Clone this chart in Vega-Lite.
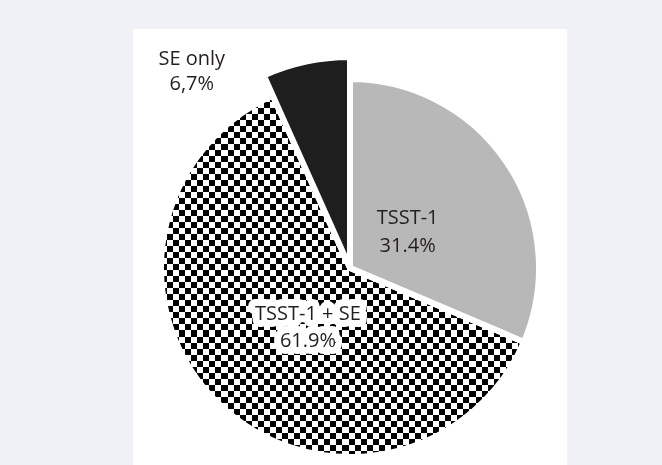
{
  "$schema": "https://vega.github.io/schema/vega-lite/v6.json",
  "width": 434,
  "height": 478,
  "autosize": "none",
  "padding": {"left": 133, "top": 29, "right": 95, "bottom": 0},
  "background": "#f0f1f7",
  "view": {"fill": "#ffffff", "stroke": null},
  "config": {"view": {"fill": "#ffffff", "stroke": null}, "text": {"font": "Open Sans"}},
  "data": {"values": [
    {"group": "TSST-1", "pct": 31.4, "label": "TSST-1\n31.4%"},
    {"group": "TSST-1 + SE", "pct": 61.9, "label": "TSST-1 + SE\n61.9%"},
    {"group": "SE only", "pct": 6.7, "label": "SE only\n6,7%"}
  ]},
  "encoding": {
    "theta": {"field": "pct", "type": "quantitative", "stack": true, "scale": {"range": [-0.420973, 5.862212]}},
    "order": {"field": "group", "type": "nominal", "sort": "ascending"},
    "detail": {"field": "group", "type": "nominal"}
  },
  "layer": [
    {
      "mark": {"type": "arc", "outerRadius": 189},
      "encoding": {
        "fill": {"field": "group", "type": "nominal", "scale": {"domain": ["SE only", "TSST-1", "TSST-1 + SE"], "range": ["#1e1e1e", "#b8b8b8", "#808080"]}, "legend": null},
        "opacity": {"condition": {"test": "datum.group === 'SE only'", "value": 0}, "value": 1}
      }
    },
    {
      "mark": {"type": "arc", "outerRadius": 189, "fill": {"gradient": "linear", "x1": 0, "y1": 0, "x2": 0, "y2": 1, "stops": [
        {"offset":0,"color":"#000"},
        {"offset":0.0167,"color":"#000"},{"offset":0.0167,"color":"#fff"},
        {"offset":0.0333,"color":"#fff"},{"offset":0.0333,"color":"#000"},
        {"offset":0.05,"color":"#000"},{"offset":0.05,"color":"#fff"},
        {"offset":0.0667,"color":"#fff"},{"offset":0.0667,"color":"#000"},
        {"offset":0.0833,"color":"#000"},{"offset":0.0833,"color":"#fff"},
        {"offset":0.1,"color":"#fff"},{"offset":0.1,"color":"#000"},
        {"offset":0.1167,"color":"#000"},{"offset":0.1167,"color":"#fff"},
        {"offset":0.1333,"color":"#fff"},{"offset":0.1333,"color":"#000"},
        {"offset":0.15,"color":"#000"},{"offset":0.15,"color":"#fff"},
        {"offset":0.1667,"color":"#fff"},{"offset":0.1667,"color":"#000"},
        {"offset":0.1833,"color":"#000"},{"offset":0.1833,"color":"#fff"},
        {"offset":0.2,"color":"#fff"},{"offset":0.2,"color":"#000"},
        {"offset":0.2167,"color":"#000"},{"offset":0.2167,"color":"#fff"},
        {"offset":0.2333,"color":"#fff"},{"offset":0.2333,"color":"#000"},
        {"offset":0.25,"color":"#000"},{"offset":0.25,"color":"#fff"},
        {"offset":0.2667,"color":"#fff"},{"offset":0.2667,"color":"#000"},
        {"offset":0.2833,"color":"#000"},{"offset":0.2833,"color":"#fff"},
        {"offset":0.3,"color":"#fff"},{"offset":0.3,"color":"#000"},
        {"offset":0.3167,"color":"#000"},{"offset":0.3167,"color":"#fff"},
        {"offset":0.3333,"color":"#fff"},{"offset":0.3333,"color":"#000"},
        {"offset":0.35,"color":"#000"},{"offset":0.35,"color":"#fff"},
        {"offset":0.3667,"color":"#fff"},{"offset":0.3667,"color":"#000"},
        {"offset":0.3833,"color":"#000"},{"offset":0.3833,"color":"#fff"},
        {"offset":0.4,"color":"#fff"},{"offset":0.4,"color":"#000"},
        {"offset":0.4167,"color":"#000"},{"offset":0.4167,"color":"#fff"},
        {"offset":0.4333,"color":"#fff"},{"offset":0.4333,"color":"#000"},
        {"offset":0.45,"color":"#000"},{"offset":0.45,"color":"#fff"},
        {"offset":0.4667,"color":"#fff"},{"offset":0.4667,"color":"#000"},
        {"offset":0.4833,"color":"#000"},{"offset":0.4833,"color":"#fff"},
        {"offset":0.5,"color":"#fff"},{"offset":0.5,"color":"#000"},
        {"offset":0.5167,"color":"#000"},{"offset":0.5167,"color":"#fff"},
        {"offset":0.5333,"color":"#fff"},{"offset":0.5333,"color":"#000"},
        {"offset":0.55,"color":"#000"},{"offset":0.55,"color":"#fff"},
        {"offset":0.5667,"color":"#fff"},{"offset":0.5667,"color":"#000"},
        {"offset":0.5833,"color":"#000"},{"offset":0.5833,"color":"#fff"},
        {"offset":0.6,"color":"#fff"},{"offset":0.6,"color":"#000"},
        {"offset":0.6167,"color":"#000"},{"offset":0.6167,"color":"#fff"},
        {"offset":0.6333,"color":"#fff"},{"offset":0.6333,"color":"#000"},
        {"offset":0.65,"color":"#000"},{"offset":0.65,"color":"#fff"},
        {"offset":0.6667,"color":"#fff"},{"offset":0.6667,"color":"#000"},
        {"offset":0.6833,"color":"#000"},{"offset":0.6833,"color":"#fff"},
        {"offset":0.7,"color":"#fff"},{"offset":0.7,"color":"#000"},
        {"offset":0.7167,"color":"#000"},{"offset":0.7167,"color":"#fff"},
        {"offset":0.7333,"color":"#fff"},{"offset":0.7333,"color":"#000"},
        {"offset":0.75,"color":"#000"},{"offset":0.75,"color":"#fff"},
        {"offset":0.7667,"color":"#fff"},{"offset":0.7667,"color":"#000"},
        {"offset":0.7833,"color":"#000"},{"offset":0.7833,"color":"#fff"},
        {"offset":0.8,"color":"#fff"},{"offset":0.8,"color":"#000"},
        {"offset":0.8167,"color":"#000"},{"offset":0.8167,"color":"#fff"},
        {"offset":0.8333,"color":"#fff"},{"offset":0.8333,"color":"#000"},
        {"offset":0.85,"color":"#000"},{"offset":0.85,"color":"#fff"},
        {"offset":0.8667,"color":"#fff"},{"offset":0.8667,"color":"#000"},
        {"offset":0.8833,"color":"#000"},{"offset":0.8833,"color":"#fff"},
        {"offset":0.9,"color":"#fff"},{"offset":0.9,"color":"#000"},
        {"offset":0.9167,"color":"#000"},{"offset":0.9167,"color":"#fff"},
        {"offset":0.9333,"color":"#fff"},{"offset":0.9333,"color":"#000"},
        {"offset":0.95,"color":"#000"},{"offset":0.95,"color":"#fff"},
        {"offset":0.9667,"color":"#fff"},{"offset":0.9667,"color":"#000"},
        {"offset":0.9833,"color":"#000"},{"offset":0.9833,"color":"#fff"},
        {"offset":1,"color":"#fff"}
      ]}},
      "encoding": {
        "opacity": {"condition": {"test": "datum.group === 'TSST-1 + SE'", "value": 1}, "value": 0}
      }
    },
    {
      "mark": {"type": "arc", "outerRadius": 189, "blend": "difference", "fill": {"gradient": "linear", "x1": 0, "y1": 0, "x2": 1, "y2": 0, "stops": [
        {"offset":0,"color":"#000"},
        {"offset":0.0167,"color":"#000"},{"offset":0.0167,"color":"#fff"},
        {"offset":0.0333,"color":"#fff"},{"offset":0.0333,"color":"#000"},
        {"offset":0.05,"color":"#000"},{"offset":0.05,"color":"#fff"},
        {"offset":0.0667,"color":"#fff"},{"offset":0.0667,"color":"#000"},
        {"offset":0.0833,"color":"#000"},{"offset":0.0833,"color":"#fff"},
        {"offset":0.1,"color":"#fff"},{"offset":0.1,"color":"#000"},
        {"offset":0.1167,"color":"#000"},{"offset":0.1167,"color":"#fff"},
        {"offset":0.1333,"color":"#fff"},{"offset":0.1333,"color":"#000"},
        {"offset":0.15,"color":"#000"},{"offset":0.15,"color":"#fff"},
        {"offset":0.1667,"color":"#fff"},{"offset":0.1667,"color":"#000"},
        {"offset":0.1833,"color":"#000"},{"offset":0.1833,"color":"#fff"},
        {"offset":0.2,"color":"#fff"},{"offset":0.2,"color":"#000"},
        {"offset":0.2167,"color":"#000"},{"offset":0.2167,"color":"#fff"},
        {"offset":0.2333,"color":"#fff"},{"offset":0.2333,"color":"#000"},
        {"offset":0.25,"color":"#000"},{"offset":0.25,"color":"#fff"},
        {"offset":0.2667,"color":"#fff"},{"offset":0.2667,"color":"#000"},
        {"offset":0.2833,"color":"#000"},{"offset":0.2833,"color":"#fff"},
        {"offset":0.3,"color":"#fff"},{"offset":0.3,"color":"#000"},
        {"offset":0.3167,"color":"#000"},{"offset":0.3167,"color":"#fff"},
        {"offset":0.3333,"color":"#fff"},{"offset":0.3333,"color":"#000"},
        {"offset":0.35,"color":"#000"},{"offset":0.35,"color":"#fff"},
        {"offset":0.3667,"color":"#fff"},{"offset":0.3667,"color":"#000"},
        {"offset":0.3833,"color":"#000"},{"offset":0.3833,"color":"#fff"},
        {"offset":0.4,"color":"#fff"},{"offset":0.4,"color":"#000"},
        {"offset":0.4167,"color":"#000"},{"offset":0.4167,"color":"#fff"},
        {"offset":0.4333,"color":"#fff"},{"offset":0.4333,"color":"#000"},
        {"offset":0.45,"color":"#000"},{"offset":0.45,"color":"#fff"},
        {"offset":0.4667,"color":"#fff"},{"offset":0.4667,"color":"#000"},
        {"offset":0.4833,"color":"#000"},{"offset":0.4833,"color":"#fff"},
        {"offset":0.5,"color":"#fff"},{"offset":0.5,"color":"#000"},
        {"offset":0.5167,"color":"#000"},{"offset":0.5167,"color":"#fff"},
        {"offset":0.5333,"color":"#fff"},{"offset":0.5333,"color":"#000"},
        {"offset":0.55,"color":"#000"},{"offset":0.55,"color":"#fff"},
        {"offset":0.5667,"color":"#fff"},{"offset":0.5667,"color":"#000"},
        {"offset":0.5833,"color":"#000"},{"offset":0.5833,"color":"#fff"},
        {"offset":0.6,"color":"#fff"},{"offset":0.6,"color":"#000"},
        {"offset":0.6167,"color":"#000"},{"offset":0.6167,"color":"#fff"},
        {"offset":0.6333,"color":"#fff"},{"offset":0.6333,"color":"#000"},
        {"offset":0.65,"color":"#000"},{"offset":0.65,"color":"#fff"},
        {"offset":0.6667,"color":"#fff"},{"offset":0.6667,"color":"#000"},
        {"offset":0.6833,"color":"#000"},{"offset":0.6833,"color":"#fff"},
        {"offset":0.7,"color":"#fff"},{"offset":0.7,"color":"#000"},
        {"offset":0.7167,"color":"#000"},{"offset":0.7167,"color":"#fff"},
        {"offset":0.7333,"color":"#fff"},{"offset":0.7333,"color":"#000"},
        {"offset":0.75,"color":"#000"},{"offset":0.75,"color":"#fff"},
        {"offset":0.7667,"color":"#fff"},{"offset":0.7667,"color":"#000"},
        {"offset":0.7833,"color":"#000"},{"offset":0.7833,"color":"#fff"},
        {"offset":0.8,"color":"#fff"},{"offset":0.8,"color":"#000"},
        {"offset":0.8167,"color":"#000"},{"offset":0.8167,"color":"#fff"},
        {"offset":0.8333,"color":"#fff"},{"offset":0.8333,"color":"#000"},
        {"offset":0.85,"color":"#000"},{"offset":0.85,"color":"#fff"},
        {"offset":0.8667,"color":"#fff"},{"offset":0.8667,"color":"#000"},
        {"offset":0.8833,"color":"#000"},{"offset":0.8833,"color":"#fff"},
        {"offset":0.9,"color":"#fff"},{"offset":0.9,"color":"#000"},
        {"offset":0.9167,"color":"#000"},{"offset":0.9167,"color":"#fff"},
        {"offset":0.9333,"color":"#fff"},{"offset":0.9333,"color":"#000"},
        {"offset":0.95,"color":"#000"},{"offset":0.95,"color":"#fff"},
        {"offset":0.9667,"color":"#fff"},{"offset":0.9667,"color":"#000"},
        {"offset":0.9833,"color":"#000"},{"offset":0.9833,"color":"#fff"},
        {"offset":1,"color":"#fff"}
      ]}},
      "encoding": {
        "opacity": {"condition": {"test": "datum.group === 'TSST-1 + SE'", "value": 1}, "value": 0}
      }
    },
    {
      "mark": {"type": "arc", "outerRadius": 189, "filled": false, "stroke": "#ffffff", "strokeWidth": 6},
      "encoding": {
        "opacity": {"condition": {"test": "datum.group === 'SE only'", "value": 0}, "value": 1}
      }
    },
    {
      "mark": {"type": "arc", "outerRadius": 211, "fill": "#1e1e1e", "stroke": "#ffffff", "strokeWidth": 6},
      "encoding": {
        "opacity": {"condition": {"test": "datum.group === 'SE only'", "value": 1}, "value": 0}
      }
    },
    {
      "mark": {"type": "text", "radius": 62, "thetaOffset": -0.031, "fontSize": 20, "lineHeight": 27, "lineBreak": "\n", "align": "center", "baseline": "middle", "fill": "#ffffff", "stroke": "#ffffff", "strokeWidth": 14, "strokeJoin": "round"},
      "encoding": {
        "text": {"field": "label", "type": "nominal"},
        "opacity": {"condition": {"test": "datum.group === 'TSST-1 + SE'", "value": 1}, "value": 0}
      }
    },
    {
      "mark": {"type": "text", "radius": 62, "thetaOffset": -0.031, "fontSize": 20, "lineHeight": 27, "lineBreak": "\n", "align": "center", "baseline": "middle", "fill": "#231f20"},
      "encoding": {
        "text": {"field": "label", "type": "nominal"},
        "opacity": {"condition": {"test": "datum.group === 'TSST-1 + SE'", "value": 1}, "value": 0}
      }
    },
    {
      "mark": {"type": "text", "radius": 76, "thetaOffset": -0.126, "fontSize": 20, "lineHeight": 28, "lineBreak": "\n", "align": "center", "baseline": "middle", "fill": "#231f20"},
      "encoding": {
        "text": {"field": "label", "type": "nominal"},
        "opacity": {"condition": {"test": "datum.group === 'TSST-1'", "value": 1}, "value": 0}
      }
    },
    {
      "mark": {"type": "text", "radius": 262, "thetaOffset": -0.438, "fontSize": 20, "lineHeight": 25, "lineBreak": "\n", "align": "center", "baseline": "middle", "fill": "#231f20"},
      "encoding": {
        "text": {"field": "label", "type": "nominal"},
        "opacity": {"condition": {"test": "datum.group === 'SE only'", "value": 1}, "value": 0}
      }
    }
  ]
}
